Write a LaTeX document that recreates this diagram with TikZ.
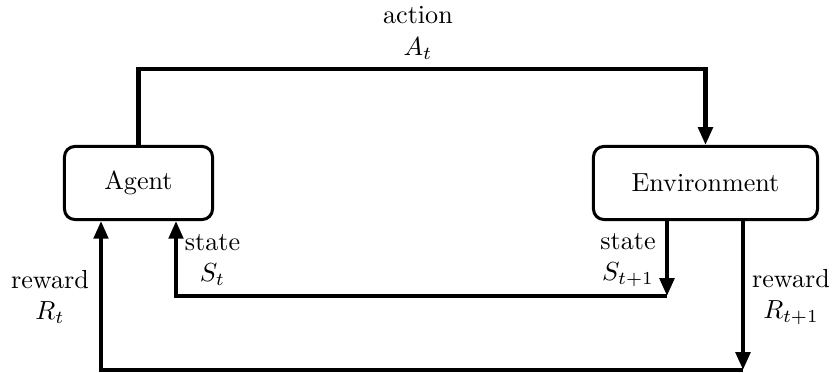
\documentclass[tikz,border=0pt]{standalone}
\usetikzlibrary{arrows.meta}
\begin{document}
\begin{tikzpicture}[x=0.383pt,y=-0.383pt,
  box/.style={draw,line width=1.15pt,rounded corners=4pt,minimum height=28pt,inner sep=0pt},
  arr/.style={line width=1.55pt,-{Triangle[length=6.8pt,width=5.5pt]}},
  lbl/.style={align=center,inner sep=0pt}]
\useasboundingbox (0,0) rectangle (835,373);
\node[box,minimum width=56.7pt] (agent) at (138.5,183) {Agent};
\node[box,minimum width=85.8pt] (env) at (705.5,183) {Environment};
\coordinate (top) at (420,69);
\coordinate (sc) at (667,296);
\coordinate (rc) at (743,370);
\coordinate (es) at (667,221);
\coordinate (er) at (743,221);
\coordinate (as) at (176,221);
\coordinate (ar) at (101,221);
\draw[arr] (agent.north) |- (top) -| (env.north);
\draw[arr] (es) -- (sc);
\draw[arr] (sc) -| (as);
\draw[arr] (er) -- (rc);
\draw[arr] (rc) -| (ar);
\node[lbl] (la) at (418,33) {action\\$A_t$};
\node[lbl] (ls) at (212.5,260) {state\\$S_t$};
\node[lbl] (lr) at (50,297) {reward\\$R_t$};
\node[lbl] (ls1) at (628,260) {state\\$S_{t+1}$};
\node[lbl] (lr1) at (791,297) {reward\\$R_{t+1}$};
\end{tikzpicture}
\end{document}
